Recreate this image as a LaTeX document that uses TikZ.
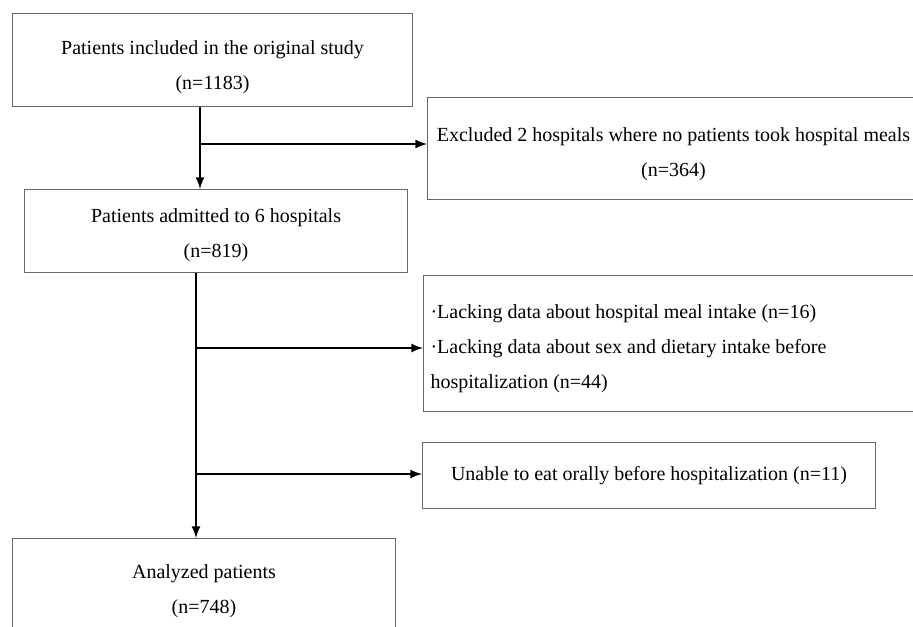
\documentclass[tikz,border=0pt]{standalone}
\usepackage{fontspec}
\setmainfont{Liberation Serif}
\usetikzlibrary{arrows}

\begin{document}
\begin{tikzpicture}[->,>=latex,x=0.5pt,y=-0.5pt,line width=1pt,
  main node/.style={rectangle,anchor=north west,draw=black!60,line width=0.5pt,fill=white,
    align=center,inner sep=0pt,font=\fontsize{10}{17.5}\selectfont},
  side node/.style={rectangle,anchor=north west,draw=black!60,line width=0.5pt,fill=white,
    align=left,inner xsep=3.5pt,inner ysep=0pt,font=\fontsize{10}{17.5}\selectfont,
    execute at begin node={\spaceskip=0pt\xspaceskip=0pt\relax}}]

  \useasboundingbox (0,0) rectangle (913,626);

  \node[main node,minimum width=246pt,minimum height=51pt] (excl1) at (427,97)
    {\rule{0pt}{12.4pt}Excluded 2 hospitals where no patients took hospital meals\\(n=364)};
  \node[main node,minimum width=200pt,minimum height=46.5pt] (incl) at (12,13)
    {\rule{0pt}{14.4pt}Patients included in the original study\\(n=1183)};
  \node[main node,minimum width=191.5pt,minimum height=41.5pt] (adm) at (24,189)
    {\rule{0pt}{11.4pt}Patients admitted to 6 hospitals\\(n=819)};
  \node[side node,text width=241.5pt,minimum height=68pt] (excl2) at (423,275)
    {\rule{0pt}{12.4pt}·Lacking data about hospital meal intake (n=16)\\
     ·Lacking data about sex and dietary intake before\\
     hospitalization (n=44)};
  \node[main node,minimum width=226.5pt,minimum height=33pt] (excl3) at (422,442)
    {Unable to eat orally before hospitalization (n=11)};
  \node[main node,minimum width=191.5pt,minimum height=53pt] (anal) at (12,538)
    {Analyzed patients\\(n=748)};

  % branch points
  \coordinate (j1) at (200,144);
  \coordinate (j2) at (196,348);
  \coordinate (j3) at (196,474);

  \path
    (incl.south -| j1) edge (adm.north -| j1)
    (j1) edge (j1 -| excl1.west)
    (adm.south -| j2) edge (anal.north -| j2)
    (j2) edge (j2 -| excl2.west)
    (j3) edge (j3 -| excl3.west)
    ;

\end{tikzpicture}
\end{document}
